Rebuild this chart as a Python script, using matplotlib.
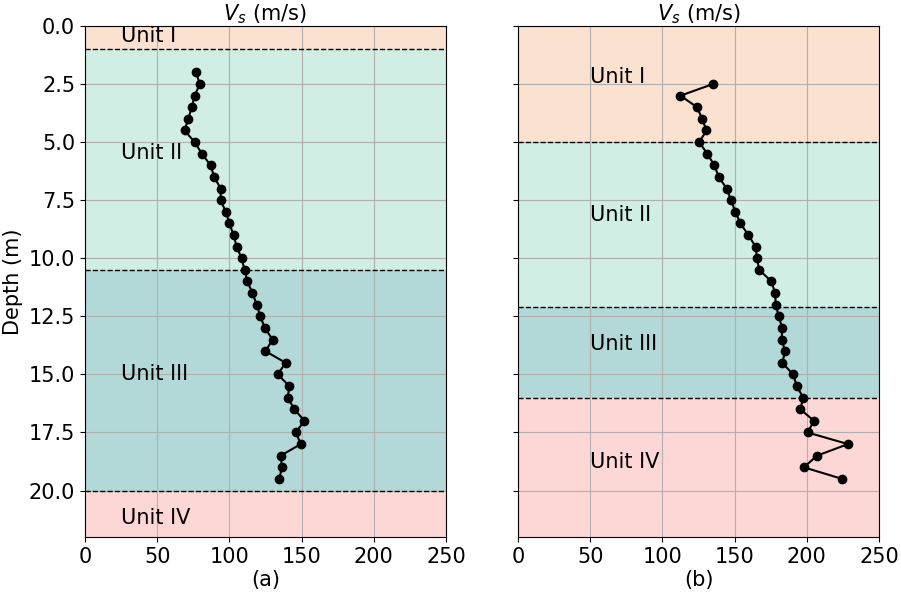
import numpy as np
import matplotlib.pyplot as plt

# depth samples (m) and shear-wave velocities (m/s)
depth_a = np.arange(2.0, 19.51, 0.5)
vs_a = [77, 79.5, 76, 74, 71.5, 69, 76, 81, 87, 89.5, 94, 94, 97.5, 100,
        103, 105, 108.5, 110.5, 112.5, 116, 119, 121.5, 124.5, 130, 125,
        139, 133.5, 141.5, 140.5, 145, 152, 146, 149.5, 135.5, 136.5, 134.5]

depth_b = np.arange(2.5, 19.51, 0.5)
vs_b = [135, 112.5, 124, 127.5, 130.5, 125.5, 131, 136, 139, 144.5, 147.5,
        150.5, 154, 159.5, 164.5, 165.5, 167, 175.5, 178, 178.5, 180.5, 183,
        182.5, 185, 183, 190.5, 193, 197.5, 195.5, 205, 200.5, 228.5, 207,
        198, 224.5]

# unit boundaries (top, bottom) for each profile
units = ["Unit I", "Unit II", "Unit III", "Unit IV"]
bounds_a = [0.0, 1.0, 10.5, 20.0, 22.0]
bounds_b = [0.0, 5.0, 12.1, 16.0, 22.0]
label_y_a = [0.45, 5.45, 15.0, 21.2]
label_y_b = [2.2, 8.15, 13.7, 18.75]
unit_colors = ["#fbe1d0", "#d0eee3", "#b3d8d8", "#fdd7d5"]

plt.rcParams['font.size'] = 15

fig = plt.figure(figsize=(9.01, 5.97), dpi=100)
ax1 = fig.add_axes([0.0943, 0.1005, 0.4006, 0.856])
ax2 = fig.add_axes([0.575, 0.1005, 0.4006, 0.856], sharey=ax1)


def draw_panel(ax, depth, vs, bounds, label_y, label_x, tag):
    for i in range(len(units)):
        ax.axhspan(bounds[i], bounds[i + 1], color=unit_colors[i], lw=0)
        ax.text(label_x, label_y[i], units[i], va='center', ha='left')
    for b in bounds[1:-1]:
        ax.axhline(b, color='black', ls='--', lw=1)
    ax.plot(vs, depth, color='black', marker='o', ms=6, lw=1.5, zorder=3)
    ax.set_xlim(0, 250)
    ax.set_xticks([0, 50, 100, 150, 200, 250])
    ax.grid(True)
    ax.set_title('$V_s$ (m/s)', fontsize=15, pad=3)
    ax.set_xlabel(tag, labelpad=2)


draw_panel(ax1, depth_a, vs_a, bounds_a, label_y_a, 25, '(a)')
draw_panel(ax2, depth_b, vs_b, bounds_b, label_y_b, 50, '(b)')

ax1.set_ylim(22, 0)
ax1.set_yticks(np.arange(0, 20.1, 2.5))
ax1.set_ylabel('Depth (m)')
plt.setp(ax2.get_yticklabels(), visible=False)

fig.savefig('out.png', dpi=100)
